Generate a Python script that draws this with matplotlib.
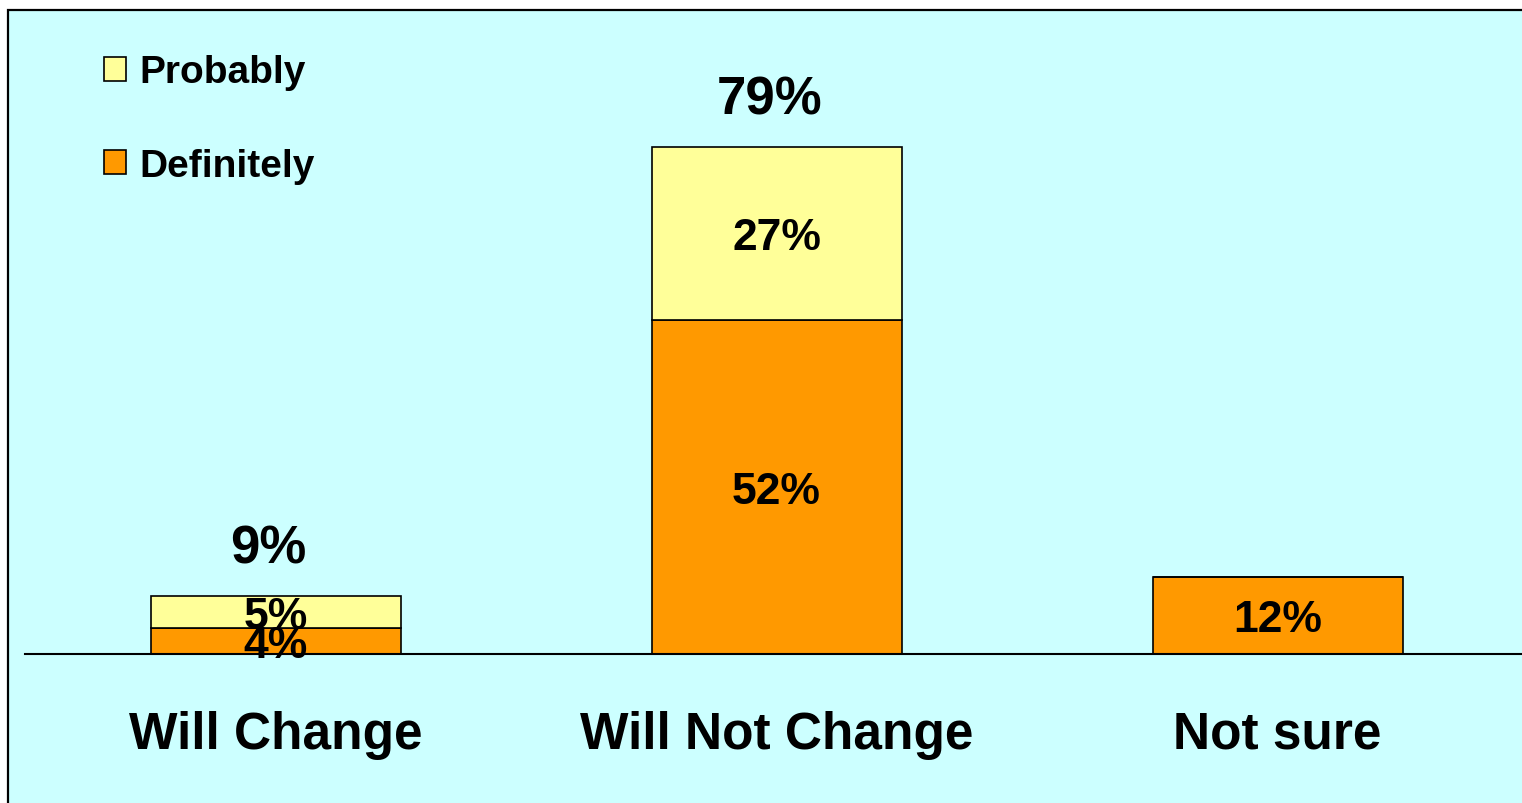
import matplotlib.pyplot as plt
from matplotlib.patches import Rectangle

# =========== DATA ===========
categories = ["Will Change", "Will Not Change", "Not sure"]
definitely = [4, 52, 12]
probably = [5, 27, 0]
totals = [9, 79, None]

# =========== STYLE ===========
BG = "#CCFFFF"
ORANGE = "#FF9900"
YELLOW = "#FFFF99"
plt.rcParams["font.family"] = ["Liberation Sans", "DejaVu Sans"]
plt.rcParams["font.weight"] = "bold"

W, H = 1522, 804
fig = plt.figure(figsize=(W / 100, H / 100), dpi=100)
fig.patch.set_facecolor("white")

# chart area frame (drawn below the axes)
fig.patches.append(
    Rectangle((8 / W, -0.01), 1.02, 1 - 11 / H + 0.01, transform=fig.transFigure,
              facecolor=BG, edgecolor="black", linewidth=1.6, zorder=-10)
)

# axes: x from 25px to right edge, baseline at y=655px
ax_bottom = 1 - 655 / H
ax_top = 1 - 13 / H
ax = fig.add_axes([25 / W, ax_bottom, 1 - 25 / W, ax_top - ax_bottom])
ax.set_facecolor("none")
ax.set_zorder(5)

x = list(range(len(categories)))
bw = 250 / 501
b1 = ax.bar(x, definitely, width=bw, color=ORANGE, edgecolor="black", linewidth=1.2,
            label="Definitely")
b2 = ax.bar(x, probably, width=bw, bottom=definitely, color=YELLOW, edgecolor="black",
            linewidth=1.2, label="Probably")

ax.set_xlim(-0.5, -0.5 + (W - 25) / 501)
ax.set_ylim(0, 100)

for s in ["top", "right", "left"]:
    ax.spines[s].set_visible(False)
ax.spines["bottom"].set_linewidth(1.5)
ax.set_yticks([])
ax.set_xticks(x)
ax.set_xticklabels(categories, fontsize=37, fontweight="bold")
ax.tick_params(axis="x", length=0, pad=40)

# segment labels
for i in x:
    if definitely[i]:
        ax.text(i, definitely[i] / 2, f"{definitely[i]}%", ha="center",
                va="center_baseline", fontsize=32, fontweight="bold")
    if probably[i]:
        ax.text(i, definitely[i] + probably[i] / 2, f"{probably[i]}%", ha="center",
                va="center_baseline", fontsize=32, fontweight="bold")
    if totals[i] is not None:
        ax.annotate(f"{totals[i]}%", (i, definitely[i] + probably[i]),
                    xytext=(-5, 16), textcoords="offset points", ha="center",
                    va="bottom", fontsize=38, fontweight="bold")

leg = ax.legend(handles=[b2, b1], loc="upper left",
                bbox_to_anchor=(85 / W, 1 - 36 / H), bbox_transform=fig.transFigure,
                frameon=False, fontsize=28, handlelength=0.56, handleheight=0.56,
                handletextpad=0.33, labelspacing=1.48, borderpad=0)
for t in leg.get_texts():
    t.set_fontweight("bold")

fig.savefig("out.png", dpi=100)
